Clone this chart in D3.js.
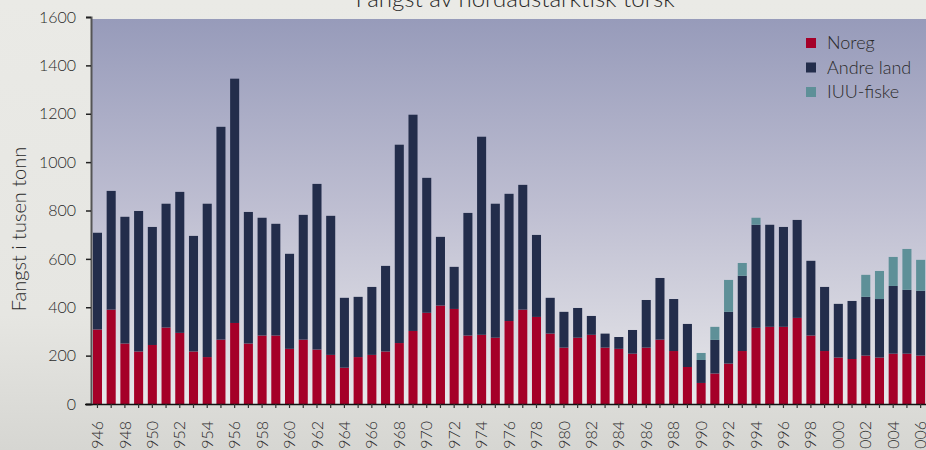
<!DOCTYPE html>
<html>
<head>
<meta charset="utf-8">
<script src="https://cdn.jsdelivr.net/npm/d3@7"></script>
<style>
  html, body { margin: 0; padding: 0; }
  body { width: 926px; height: 450px; overflow: hidden; background: #e8e8e4; }
  text { font-family: Lato, "Open Sans", sans-serif; font-weight: 300; fill: #2a2a2a; }
</style>
</head>
<body>
<svg id="chart" width="926" height="450"></svg>
<script>
// years 1946-2006
const years = d3.range(1946, 2007);

// catch in thousand tonnes
const noreg = [308, 390, 250, 217, 244, 316, 294, 217, 194, 266,
               335, 250, 283, 283, 228, 266, 225, 203, 150, 194,
               203, 217, 252, 302, 377, 407, 393, 283, 286, 274,
               343, 390, 360, 291, 233, 274, 286, 233, 228, 208,
               233, 266, 219, 153, 87, 126, 167, 219, 315, 319,
               319, 356, 283, 219, 192, 186, 200, 192, 208, 208, 200];

const andreLand = [400, 491, 524, 581, 488, 512, 583, 478, 634, 880,
                   1010, 544, 487, 462, 393, 516, 685, 575, 289, 249,
                   281, 354, 820, 894, 558, 284, 174, 507, 819, 554,
                   526, 516, 339, 148, 148, 123, 78, 58, 49, 98,
                   197, 255, 215, 178, 95, 139, 214, 311, 426, 422,
                   413, 405, 309, 265, 222, 240, 243, 242, 280, 264, 268];

const iuu = [0, 0, 0, 0, 0, 0, 0, 0, 0, 0,
             0, 0, 0, 0, 0, 0, 0, 0, 0, 0,
             0, 0, 0, 0, 0, 0, 0, 0, 0, 0,
             0, 0, 0, 0, 0, 0, 0, 0, 0, 0,
             0, 0, 0, 0, 29, 54, 132, 53, 29, 0,
             0, 0, 0, 0, 0, 0, 91, 116, 120, 169, 128];

const seriesNames = ["Noreg", "Andre land", "IUU-fiske"];
const yTicks = [0, 200, 400, 600, 800, 1000, 1200, 1400, 1600];

const colors = ["#a50028", "#232d4b", "#5e9098"];

const svg = d3.select("#chart");
const margin = {top: 17, left: 91, bottom: 404};

// page background fades a bit towards the bottom
const defs = svg.append("defs");
const pageGrad = defs.append("linearGradient").attr("id", "pageGrad")
    .attr("x1", 0).attr("y1", 0).attr("x2", 0).attr("y2", 1);
pageGrad.append("stop").attr("offset", "0%").attr("stop-color", "#eaeae6");
pageGrad.append("stop").attr("offset", "70%").attr("stop-color", "#e6e6e2");
pageGrad.append("stop").attr("offset", "100%").attr("stop-color", "#d6d6d2");

const plotGrad = defs.append("linearGradient").attr("id", "plotGrad")
    .attr("x1", 0).attr("y1", 0).attr("x2", 0).attr("y2", 1);
plotGrad.append("stop").attr("offset", "0%").attr("stop-color", "#979bba");
plotGrad.append("stop").attr("offset", "50%").attr("stop-color", "#bfbfd2");
plotGrad.append("stop").attr("offset", "100%").attr("stop-color", "#e8e8ea");

svg.append("rect").attr("width", 926).attr("height", 450).attr("fill", "url(#pageGrad)");

const x = d3.scaleBand()
    .domain(years)
    .range([90.6, 927.5])
    .paddingInner(0.34)
    .paddingOuter(0.17);

const y = d3.scaleLinear()
    .domain([0, 1600])
    .range([margin.bottom, margin.top]);

// plot area
svg.append("rect")
    .attr("x", margin.left)
    .attr("y", 19)
    .attr("width", 926 - margin.left)
    .attr("height", margin.bottom - 19)
    .attr("fill", "url(#plotGrad)");

// stack the three series
const table = years.map((yr, i) => ({year: yr, "Noreg": noreg[i], "Andre land": andreLand[i], "IUU-fiske": iuu[i]}));
const stacked = d3.stack().keys(seriesNames)(table);

svg.append("g")
  .selectAll("g")
  .data(stacked)
  .enter()
  .append("g")
    .attr("fill", (d, i) => colors[i])
  .selectAll("rect")
  .data(d => d.filter(p => p[1] - p[0] > 0))
  .enter()
  .append("rect")
    .attr("x", d => x(d.data.year))
    .attr("width", x.bandwidth())
    .attr("y", d => y(d[1]))
    .attr("height", d => y(d[0]) - y(d[1]));

// y axis
const yAxis = svg.append("g")
    .attr("transform", `translate(${margin.left},0)`)
    .call(d3.axisLeft(y).tickValues(yTicks).tickSize(5).tickPadding(10).tickFormat(d3.format("d")));
yAxis.select(".domain").attr("stroke", "#555").attr("stroke-width", 2);
yAxis.selectAll(".tick line").attr("stroke", "#222").attr("stroke-width", 1.5);
yAxis.selectAll("text").style("font-size", "16px").attr("fill", "#333");

// x axis
const xAxis = svg.append("g")
    .attr("transform", `translate(0,${margin.bottom})`)
    .call(d3.axisBottom(x).tickSize(4).tickSizeOuter(0)
      .tickFormat(d => d % 2 === 0 ? d : ""));
xAxis.select(".domain").attr("d", `M85,0.5H926`).attr("stroke", "#111").attr("stroke-width", 1.5);
xAxis.selectAll(".tick line").attr("stroke", "#333").attr("stroke-width", 1.2);
xAxis.selectAll("text")
    .attr("transform", "rotate(-90)")
    .attr("x", -17)
    .attr("y", 0)
    .attr("dy", "0.35em")
    .attr("text-anchor", "end")
    .style("font-size", "16px")
    .attr("fill", "#333");

// axis title
svg.append("text")
    .attr("transform", "translate(26,229) rotate(-90)")
    .attr("text-anchor", "middle")
    .style("font-size", "20px")
    .attr("fill", "#333")
    .text("Fangst i tusen tonn");

// chart title, cut by the top edge
svg.append("text")
    .attr("x", 515)
    .attr("y", 7)
    .attr("text-anchor", "middle")
    .style("font-size", "24px")
    .attr("fill", "#333")
    .text("Fangst av nordaustarktisk torsk");

// legend
const legend = svg.append("g").attr("transform", "translate(806,38)");
legend.selectAll("rect")
  .data(seriesNames)
  .enter()
  .append("rect")
    .attr("x", 0)
    .attr("y", (d, i) => i * 24.5)
    .attr("width", 10)
    .attr("height", 10)
    .attr("fill", (d, i) => colors[i]);
legend.selectAll("text")
  .data(seriesNames)
  .enter()
  .append("text")
    .attr("x", 21)
    .attr("y", (d, i) => i * 24.5 + 5)
    .attr("dy", "0.35em")
    .style("font-size", "18px")
    .attr("fill", "#2a2a2a")
    .text(d => d);
</script>
</body>
</html>
